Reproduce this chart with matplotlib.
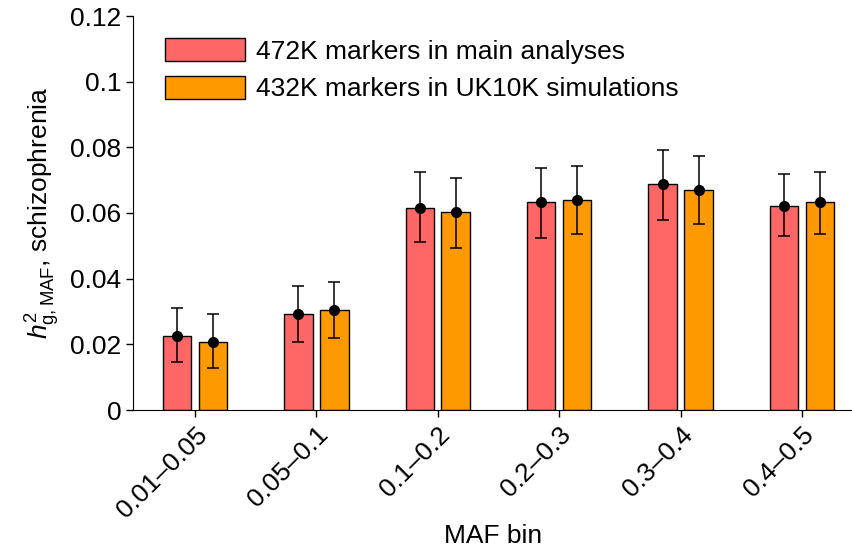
import matplotlib
matplotlib.use("Agg")
import matplotlib.pyplot as plt
import numpy as np
from matplotlib.patches import Patch

plt.rcParams['font.family'] = ['Liberation Sans', 'DejaVu Sans']
plt.rcParams['mathtext.fontset'] = 'custom'
plt.rcParams['mathtext.rm'] = 'Liberation Sans'
plt.rcParams['mathtext.it'] = 'Liberation Sans:italic'

categories = ["0.01\u20130.05", "0.05\u20130.1", "0.1\u20130.2", "0.2\u20130.3", "0.3\u20130.4", "0.4\u20130.5"]
series_names = ["472K markers in main analyses", "432K markers in UK10K simulations"]
main_vals = [0.0225, 0.0292, 0.0615, 0.0634, 0.0688, 0.0621]
main_lo = [0.0146, 0.0207, 0.0512, 0.0524, 0.0579, 0.0530]
main_hi = [0.0311, 0.0378, 0.0724, 0.0736, 0.0792, 0.0719]
uk_vals = [0.0208, 0.0305, 0.0603, 0.0640, 0.0670, 0.0634]
uk_lo = [0.0128, 0.0219, 0.0493, 0.0536, 0.0567, 0.0536]
uk_hi = [0.0292, 0.0390, 0.0706, 0.0743, 0.0774, 0.0724]
colors = ["#FF6666", "#FF9900"]

FS = 19

fig = plt.figure(figsize=(8.53, 5.54), dpi=100)
ax = fig.add_axes([133/853, 1-410/554, 1-133/853, (410-16)/554])

x = np.arange(len(categories))
off = 0.148
w = 0.235
for vals, lo, hi, c, d in [(main_vals, main_lo, main_hi, colors[0], -off),
                           (uk_vals, uk_lo, uk_hi, colors[1], off)]:
    vals = np.array(vals); lo = np.array(lo); hi = np.array(hi)
    ax.bar(x + d, vals, width=w, color=c, edgecolor='black', linewidth=1.0, zorder=2)
    ax.errorbar(x + d, vals, yerr=[vals - lo, hi - vals], fmt='o', color='black',
                markersize=7, elinewidth=1.1, capsize=4.5, capthick=1.1, zorder=3)

ax.set_xlim(-0.51, 5.42)
ax.set_ylim(0, 0.12)
ax.set_yticks([0, 0.02, 0.04, 0.06, 0.08, 0.1, 0.12])
ax.set_yticklabels(["0", "0.02", "0.04", "0.06", "0.08", "0.1", "0.12"])
ax.set_xticks(x)
ax.set_xticklabels(categories, rotation=45, ha='right', va='top', rotation_mode='anchor')
ax.tick_params(axis='both', labelsize=FS, direction='out', length=5, width=1)
ax.tick_params(axis='x', pad=4)
ax.spines['top'].set_visible(False)
ax.spines['right'].set_visible(False)
ax.set_xlabel("MAF bin", fontsize=FS)
ax.xaxis.set_label_coords(0.5, (410 - 524) / 394)
ax.set_ylabel(r"$h^2_{\mathrm{g,MAF}}$, schizophrenia", fontsize=FS, labelpad=6)

handles = [Patch(facecolor=colors[0], edgecolor='black'), Patch(facecolor=colors[1], edgecolor='black')]
fig.legend(handles, series_names, loc='upper left', bbox_to_anchor=(165/853, 1-38/554),
           bbox_transform=fig.transFigure, frameon=False, fontsize=FS, borderpad=0,
           borderaxespad=0, handlelength=3.03, handleheight=0.98, labelspacing=0.45,
           handletextpad=0.42)

fig.savefig("out.png", dpi=100)
